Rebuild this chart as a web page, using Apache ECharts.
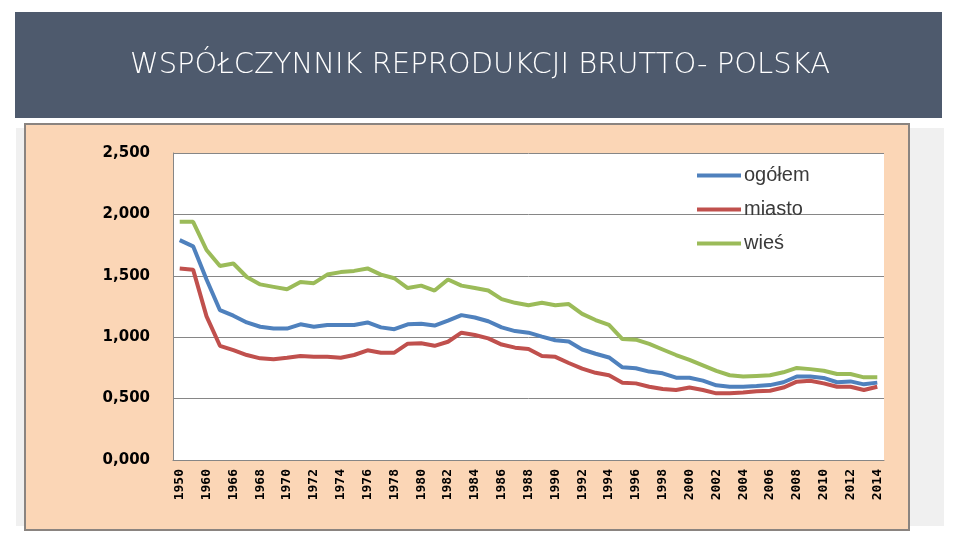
<!DOCTYPE html>
<html>
<head>
<meta charset="utf-8">
<title>Współczynnik reprodukcji brutto - Polska</title>
<script src="https://cdn.jsdelivr.net/npm/echarts@6/dist/echarts.min.js"></script>
<style>
  html, body { margin: 0; padding: 0; background: #fff; }
  #main { width: 960px; height: 540px; }
</style>
</head>
<body>
<div id="main"></div>
<script>
// lata (co druga kategoria podpisana na osi)
const years = ['1950', '1955', '1960', '1965', '1966', '1967', '1968', '1969', '1970', '1971',
  '1972', '1973', '1974', '1975', '1976', '1977', '1978', '1979', '1980', '1981',
  '1982', '1983', '1984', '1985', '1986', '1987', '1988', '1989', '1990', '1991',
  '1992', '1993', '1994', '1995', '1996', '1997', '1998', '1999', '2000', '2001',
  '2002', '2003', '2004', '2005', '2006', '2007', '2008', '2009', '2010', '2011',
  '2012', '2013', '2014']

const ogolem = [1.79, 1.74, 1.47, 1.22, 1.175, 1.12, 1.085, 1.07, 1.07, 1.105,
  1.085, 1.10, 1.10, 1.10, 1.12, 1.08, 1.065, 1.105, 1.11, 1.095,
  1.135, 1.18, 1.16, 1.13, 1.08, 1.05, 1.037, 1.005, 0.975, 0.965,
  0.90, 0.865, 0.835, 0.755, 0.747, 0.72, 0.706, 0.67, 0.67, 0.646,
  0.608, 0.597, 0.597, 0.603, 0.61, 0.633, 0.68, 0.68, 0.668, 0.633,
  0.64, 0.616, 0.63]

const miasto = [1.56, 1.55, 1.17, 0.93, 0.895, 0.855, 0.828, 0.82, 0.833, 0.847,
  0.84, 0.84, 0.833, 0.855, 0.893, 0.874, 0.874, 0.947, 0.95, 0.93,
  0.963, 1.037, 1.018, 0.99, 0.94, 0.915, 0.904, 0.847, 0.84, 0.79,
  0.744, 0.71, 0.69, 0.63, 0.624, 0.597, 0.578, 0.57, 0.59, 0.57,
  0.543, 0.543, 0.55, 0.56, 0.564, 0.59, 0.638, 0.645, 0.624, 0.597,
  0.597, 0.57, 0.597]

const wies = [1.94, 1.94, 1.71, 1.58, 1.60, 1.49, 1.43, 1.41, 1.39, 1.45,
  1.44, 1.51, 1.53, 1.54, 1.56, 1.51, 1.48, 1.40, 1.42, 1.38,
  1.47, 1.42, 1.40, 1.38, 1.31, 1.28, 1.26, 1.28, 1.26, 1.27,
  1.19, 1.14, 1.10, 0.985, 0.98, 0.945, 0.90, 0.855, 0.815, 0.77,
  0.725, 0.69, 0.68, 0.685, 0.69, 0.714, 0.75, 0.74, 0.727, 0.70,
  0.70, 0.673, 0.673]

const seriesNames = ['ogółem', 'miasto', 'wieś']
const seriesColors = ['#4f81bd', '#c0504d', '#9bbb59']
const yTicks = [0, 0.5, 1, 1.5, 2, 2.5]

const myChart = echarts.init(document.getElementById('main'))

myChart.setOption({
  animation: false,
  backgroundColor: '#ffffff',
  title: {
    text: 'WSPÓŁCZYNNIK REPRODUKCJI BRUTTO- POLSKA',
    left: 'center',
    top: 46,
    textStyle: {
      color: '#ffffff',
      fontFamily: 'DejaVu Sans',
      fontWeight: 200,
      fontSize: 29
    }
  },
  graphic: [
    // pasek nagłówka
    { type: 'rect', z: -10, shape: { x: 15, y: 12, width: 927, height: 106 }, style: { fill: '#4e5a6d' } },
    // szare tło slajdu
    { type: 'rect', z: -10, shape: { x: 16, y: 128, width: 928, height: 398 }, style: { fill: '#f0f0f0' } },
    // brzoskwiniowy panel wykresu
    { type: 'rect', z: -9, shape: { x: 25, y: 124, width: 884, height: 406 }, style: { fill: '#fbd6b6', stroke: '#8a8480', lineWidth: 2 } }
  ],
  legend: {
    orient: 'vertical',
    left: 697,
    top: 165,
    padding: 0,
    itemGap: 13,
    itemWidth: 44,
    itemHeight: 4,
    icon: 'rect',
    data: seriesNames,
    textStyle: {
      color: '#3a3a3a',
      fontFamily: 'Liberation Sans',
      fontSize: 20,
      lineHeight: 21,
      padding: [0, 0, 0, -2]
    }
  },
  grid: {
    left: 173,
    right: 76,
    top: 153,
    bottom: 80,
    show: true,
    backgroundColor: '#ffffff',
    borderWidth: 0
  },
  xAxis: {
    type: 'category',
    data: years,
    boundaryGap: true,
    axisLine: { lineStyle: { color: '#868686', width: 1 } },
    axisTick: { show: false },
    axisLabel: {
      interval: 1,
      rotate: 90,
      margin: 9,
      color: '#000',
      fontFamily: 'DejaVu Sans Mono',
      fontWeight: 'bold',
      fontSize: 13
    }
  },
  yAxis: {
    type: 'value',
    min: yTicks[0],
    max: yTicks[yTicks.length - 1],
    interval: 0.5,
    axisLine: { show: true, lineStyle: { color: '#868686', width: 1 } },
    axisTick: { show: false },
    splitLine: { show: true, lineStyle: { color: '#868686', width: 1 } },
    axisLabel: {
      margin: 23,
      color: '#000',
      fontFamily: 'DejaVu Sans',
      fontWeight: 'bold',
      fontSize: 15,
      formatter: v => v.toFixed(3).replace('.', ',')
    }
  },
  color: seriesColors,
  series: [ogolem, miasto, wies].map((d, i) => ({
    name: seriesNames[i],
    type: 'line',
    data: d,
    symbol: 'none',
    smooth: false,
    lineStyle: { width: 4, color: seriesColors[i] },
    itemStyle: { color: seriesColors[i] }
  }))
})
</script>
</body>
</html>
